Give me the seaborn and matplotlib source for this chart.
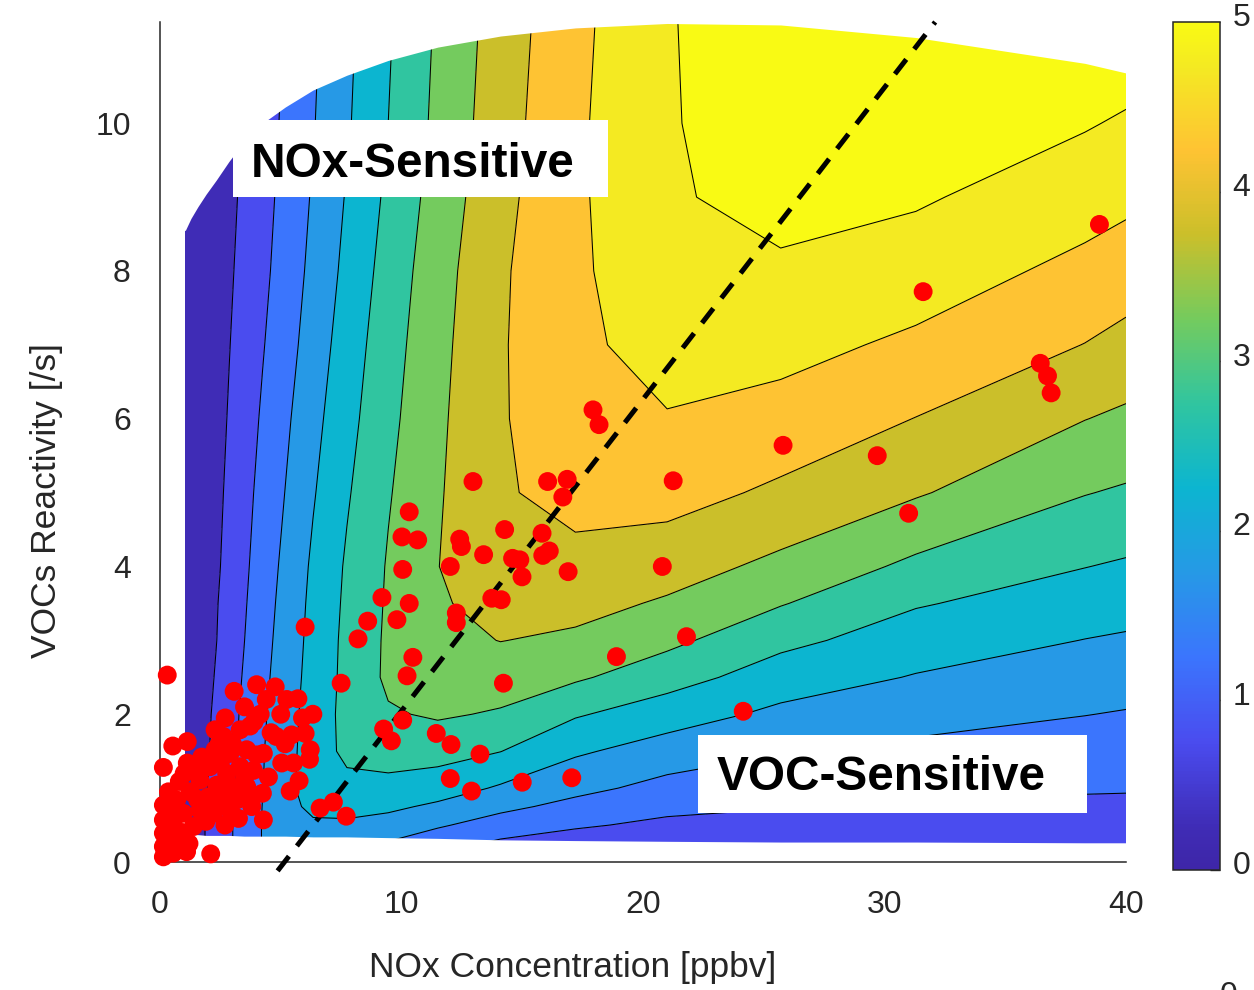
import numpy as np
import matplotlib
matplotlib.use("Agg")
import matplotlib.pyplot as plt
from matplotlib.colors import LinearSegmentedColormap, Normalize
from matplotlib.cm import ScalarMappable
from matplotlib.patches import Rectangle
from matplotlib.transforms import ScaledTranslation
import seaborn as sns

# ---- ozone production field P(O3) on a NOx x VOC-reactivity grid ----
nox_grid = [1.05, 1.28, 1.57, 1.91, 2.33, 2.85, 3.48, 4.25, 5.19, 6.34,
            7.74, 9.45, 11.5, 14.1, 17.2, 21.0, 25.7, 31.3, 38.3, 40.0]
vocr_grid = [0.25, 0.5, 0.75, 1.0, 1.5, 2.0, 2.5, 3.0, 3.5, 4.0,
             5.0, 6.0, 7.0, 8.0, 9.0, 10.0, 11.5]
p_o3 = [
    [0.14, 0.24, 0.37, 0.52, 0.70, 0.93, 1.20, 1.52, 1.88, 1.75, 1.65, 1.46, 1.20, 0.91, 0.77, 0.68, 0.68, 0.68, 0.69, 0.70],
    [0.14, 0.24, 0.37, 0.52, 0.70, 0.93, 1.20, 1.52, 1.88, 1.93, 1.92, 1.80, 1.56, 1.28, 1.06, 0.90, 0.85, 0.82, 0.81, 0.81],
    [0.12, 0.22, 0.35, 0.50, 0.68, 0.91, 1.18, 1.51, 1.86, 2.10, 2.15, 2.10, 1.91, 1.62, 1.35, 1.12, 1.02, 0.96, 0.92, 0.92],
    [0.10, 0.20, 0.33, 0.47, 0.65, 0.88, 1.15, 1.49, 1.85, 2.25, 2.35, 2.36, 2.24, 1.94, 1.64, 1.34, 1.19, 1.10, 1.04, 1.03],
    [0.07, 0.17, 0.30, 0.44, 0.62, 0.85, 1.12, 1.47, 1.83, 2.23, 2.62, 2.70, 2.69, 2.51, 2.07, 1.78, 1.53, 1.39, 1.27, 1.25],
    [0.04, 0.14, 0.27, 0.41, 0.59, 0.82, 1.09, 1.43, 1.80, 2.21, 2.65, 2.95, 3.06, 2.95, 2.55, 2.23, 1.89, 1.68, 1.51, 1.47],
    [0.00, 0.10, 0.22, 0.36, 0.54, 0.77, 1.04, 1.38, 1.75, 2.18, 2.63, 3.09, 3.22, 3.24, 3.07, 2.71, 2.25, 1.97, 1.75, 1.70],
    [-0.04, 0.06, 0.18, 0.32, 0.49, 0.72, 0.99, 1.33, 1.71, 2.15, 2.62, 3.08, 3.37, 3.51, 3.41, 3.12, 2.63, 2.25, 1.99, 1.94],
    [-0.07, 0.03, 0.15, 0.29, 0.47, 0.68, 0.95, 1.28, 1.67, 2.12, 2.59, 3.06, 3.45, 3.66, 3.66, 3.44, 3.03, 2.54, 2.25, 2.19],
    [-0.10, 0.00, 0.11, 0.25, 0.43, 0.64, 0.91, 1.23, 1.62, 2.08, 2.56, 3.04, 3.49, 3.88, 3.87, 3.71, 3.38, 2.89, 2.51, 2.44],
    [-0.12, -0.03, 0.08, 0.21, 0.38, 0.59, 0.84, 1.15, 1.51, 1.96, 2.45, 2.96, 3.45, 3.95, 4.15, 4.19, 3.91, 3.55, 3.02, 2.94],
    [-0.14, -0.05, 0.06, 0.18, 0.34, 0.53, 0.77, 1.06, 1.41, 1.85, 2.34, 2.87, 3.41, 3.95, 4.37, 4.48, 4.33, 3.99, 3.51, 3.41],
    [-0.16, -0.07, 0.03, 0.14, 0.29, 0.48, 0.70, 0.97, 1.30, 1.73, 2.24, 2.79, 3.36, 3.95, 4.43, 4.63, 4.65, 4.41, 3.99, 3.85],
    [-0.18, -0.10, 0.00, 0.11, 0.25, 0.43, 0.64, 0.89, 1.21, 1.63, 2.13, 2.70, 3.30, 3.93, 4.43, 4.78, 4.91, 4.75, 4.37, 4.25],
    [-0.22, -0.14, -0.04, 0.07, 0.21, 0.38, 0.59, 0.83, 1.15, 1.55, 2.04, 2.60, 3.21, 3.86, 4.42, 4.93, 5.20, 5.06, 4.71, 4.61],
    [-0.26, -0.18, -0.09, 0.02, 0.16, 0.32, 0.53, 0.77, 1.09, 1.47, 1.94, 2.50, 3.12, 3.79, 4.42, 4.94, 5.40, 5.37, 5.04, 4.94],
    [-0.30, -0.22, -0.13, -0.02, 0.11, 0.27, 0.48, 0.72, 1.03, 1.41, 1.88, 2.44, 3.06, 3.73, 4.37, 4.96, 5.40, 5.80, 5.50, 5.42],
]

# edges of the modelled domain at each NOx grid node
domain_top = [8.55, 8.71, 8.87, 9.04, 9.23, 9.48, 9.75, 10.0, 10.22, 10.45,
              10.65, 10.85, 11.03, 11.18, 11.29, 11.35, 11.33, 11.16, 10.81, 10.68]
domain_bottom = [0.37, 0.37, 0.37, 0.36, 0.36, 0.36, 0.35, 0.35, 0.35, 0.34,
                 0.34, 0.33, 0.32, 0.30, 0.29, 0.28, 0.27, 0.27, 0.26, 0.26]

levels = [0.5, 1.0, 1.5, 2.0, 2.5, 3.0, 3.5, 4.0, 4.5, 5.0]
band_colors = ["#3F2CB6", "#4A4CEF", "#3B75FD", "#2699E6", "#0CB5D0",
               "#30C5A0", "#74CB5E", "#CBBF2A", "#FEC333", "#F4EA22", "#F9FA14"]

# observations
obs_nox = [38.9, 31.6, 36.45, 36.75, 36.9, 25.8, 29.7, 31.0, 21.25, 20.8,
           21.8, 18.9, 24.15, 17.05, 15.0, 14.22, 13.25, 12.9, 12.02, 12.05,
           11.44, 17.93, 18.18, 16.05, 16.86, 16.68, 12.96, 10.32, 10.02, 10.67,
           12.41, 12.48, 14.27, 15.82, 13.4, 14.6, 14.9, 15.85, 16.12, 14.99,
           16.9, 10.05, 12.02, 9.19, 10.32, 9.81, 8.6, 8.2, 13.74, 14.13,
           12.27, 12.27, 10.47, 10.23, 10.05, 9.26, 9.58, 6.01, 7.5, 0.30,
           3.07, 6.63, 7.18, 7.71, 4.28, 4.77, 5.25, 5.71, 6.33, 4.15,
           6.01, 6.22, 6.19, 5.76, 5.39,
           3.73, 3.32, 2.28, 2.62, 4.81, 5.18, 4.28, 5.53, 5.04, 4.24,
           0.53, 1.13, 0.14, 1.13, 0.80, 1.73, 2.28, 2.90, 3.59, 2.07,
           2.76, 3.32, 3.87, 4.49, 1.66, 2.35, 2.97, 3.59, 1.24, 2.00,
           2.56, 3.18, 3.59, 0.14, 0.69, 0.97, 1.66, 2.21, 2.69, 3.25,
           1.38, 0.14, 0.14, 0.69, 0.14, 0.55, 1.10, 2.10, 0.14,
           1.50, 2.50, 3.00, 3.50, 4.00, 1.90, 0.40, 0.90, 0.35, 0.35,
           1.55, 2.90, 3.80, 1.00, 4.60, 5.00, 4.40, 3.50, 2.70, 0.25,
           0.60, 1.20, 2.45, 3.90, 4.00, 5.45, 5.90]
obs_vocr = [8.63, 7.72, 6.75, 6.58, 6.35, 5.64, 5.50, 4.72, 5.16, 4.00,
            3.05, 2.78, 2.04, 1.14, 1.08, 2.42, 1.46, 0.96, 1.13, 1.59,
            1.74, 6.12, 5.92, 5.15, 5.18, 4.94, 5.15, 4.74, 4.40, 4.36,
            4.37, 4.27, 4.50, 4.45, 4.16, 4.11, 4.09, 4.15, 4.21, 3.86,
            3.93, 3.96, 4.00, 3.58, 3.50, 3.28, 3.26, 3.02, 3.57, 3.55,
            3.37, 3.24, 2.77, 2.52, 1.92, 1.80, 1.64, 3.18, 2.42, 2.53,
            2.31, 0.73, 0.81, 0.62, 0.57, 2.37, 2.20, 2.21, 2.00, 2.00,
            1.74, 1.52, 1.39, 1.10, 0.96,
            1.84, 1.79, 1.79, 1.70, 1.70, 1.60, 1.47, 1.34, 1.34, 0.93,
            1.57, 1.63, 1.28, 1.34, 1.09, 1.42, 1.52, 1.47, 1.52, 1.29,
            1.20, 1.29, 1.24, 1.15, 1.11, 1.04, 1.02, 1.02, 0.95, 0.88,
            0.84, 0.84, 0.88, 0.77, 0.84, 0.66, 0.70, 0.66, 0.50, 0.59,
            0.48, 0.57, 0.39, 0.30, 0.21, 0.12, 0.14, 0.11, 0.07,
            1.25, 1.35, 1.60, 1.15, 1.45, 0.55, 0.45, 0.40, 0.95, 0.65,
            0.85, 0.70, 0.75, 1.20, 1.75, 2.00, 2.20, 2.10, 1.95, 0.30,
            0.60, 0.25, 1.60, 1.90, 2.40, 1.72, 1.95]

# regime boundary
ridge_nox = [4.87, 32.1]
ridge_vocr = [-0.12, 11.37]

W, H = 1254, 990
sns.set_theme(style="white")
plt.rcParams["font.family"] = ["Liberation Sans", "DejaVu Sans"]
ink = "#262626"

fig = plt.figure(figsize=(W / 100, H / 100), dpi=100)
ax = fig.add_axes([160 / W, 1 - 862 / H, 966 / W, 840 / H])

X, Y = np.meshgrid(nox_grid, vocr_grid)
Z = np.array(p_o3)
ax.contourf(X, Y, Z, levels=[-5] + levels + [50], colors=band_colors, zorder=1)
ax.contour(X, Y, Z, levels=levels, colors="black", linewidths=0.75, zorder=2)

# blank out everything outside the modelled domain (a little past its left edge too)
mask_x = [0.6] + nox_grid
ax.fill_between(mask_x, [domain_top[0]] + domain_top, 20, color="white", lw=0, zorder=3)
ax.fill_between(mask_x, -5, [domain_bottom[0]] + domain_bottom, color="white", lw=0, zorder=3)
ax.fill_betweenx([-5, 20], 0.6, nox_grid[0], color="white", lw=0, zorder=0.5)

ax.plot(ridge_nox, ridge_vocr, color="black", lw=3.6, dashes=(3.7, 2.6),
        solid_capstyle="butt", dash_capstyle="butt", clip_on=False, zorder=4)

sns.scatterplot(x=obs_nox, y=obs_vocr, color="#FF0000", s=185, linewidth=0,
                edgecolor="none", ax=ax, zorder=5, clip_on=False, legend=False)

# regime labels
ax.add_patch(Rectangle((3.03, 9.0), 15.54, 1.05, facecolor="white", edgecolor="none", zorder=6))
ax.text(3.75, 9.27, "NOx-Sensitive", fontsize=34.4, fontweight="bold", color="black",
        ha="left", va="baseline", zorder=7)
ax.add_patch(Rectangle((22.28, 0.67), 16.12, 1.05, facecolor="white", edgecolor="none", zorder=6))
ax.text(23.05, 0.974, "VOC-Sensitive", fontsize=34.4, fontweight="bold", color="black",
        ha="left", va="baseline", zorder=7)

ax.set_xlim(0, 40)
ax.set_ylim(0, 11.37)
ax.set_xticks([0, 10, 20, 30, 40])
ax.set_yticks([0, 2, 4, 6, 8, 10])
ax.tick_params(axis="both", direction="in", length=7.5, width=1.0, colors=ink, labelsize=23)
ax.tick_params(axis="x", pad=20.5)
ax.tick_params(axis="y", pad=21)
for side in ("top", "right"):
    ax.spines[side].set_visible(False)
for side in ("left", "bottom"):
    ax.spines[side].set_color(ink)
    ax.spines[side].set_linewidth(1.1)
    ax.spines[side].set_zorder(3.5)

ax.set_xlabel("NOx Concentration [ppbv]", fontsize=25.5, color=ink)
ax.set_ylabel("VOCs Reactivity [/s]", fontsize=25.5, color=ink)
ax.xaxis.set_label_coords(0.427, -0.125)
ax.xaxis.label.set_verticalalignment("center")
ax.yaxis.set_label_coords(-0.117, 0.43)
ax.yaxis.label.set_verticalalignment("center")

# colorbar
anchor_pos = [0.0, 0.05, 0.15, 0.25, 0.35, 0.45, 0.55, 0.65, 0.75, 0.85, 0.95, 1.0]
anchor_col = ["#3E26A8"] + band_colors
cmap = LinearSegmentedColormap.from_list("bands", list(zip(anchor_pos, anchor_col)))
cax = fig.add_axes([1173 / W, 1 - 870 / H, 47 / W, 848 / H])
sm = ScalarMappable(norm=Normalize(0, 5), cmap=cmap)
cb = fig.colorbar(sm, cax=cax, ticks=[0, 1, 2, 3, 4, 5])
cb.outline.set_edgecolor(ink)
cb.outline.set_linewidth(1.1)
cax.tick_params(direction="in", length=7, width=1.0, colors=ink, labelsize=23, pad=9)
lift = ScaledTranslation(0, 7 / 100, fig.dpi_scale_trans)
for lab in cax.get_yticklabels():
    lab.set_transform(lab.get_transform() + lift)

fig.text(1229 / W, -0.006, "0", fontsize=23, color=ink, ha="center", va="center")

fig.savefig("out.png", dpi=100)
